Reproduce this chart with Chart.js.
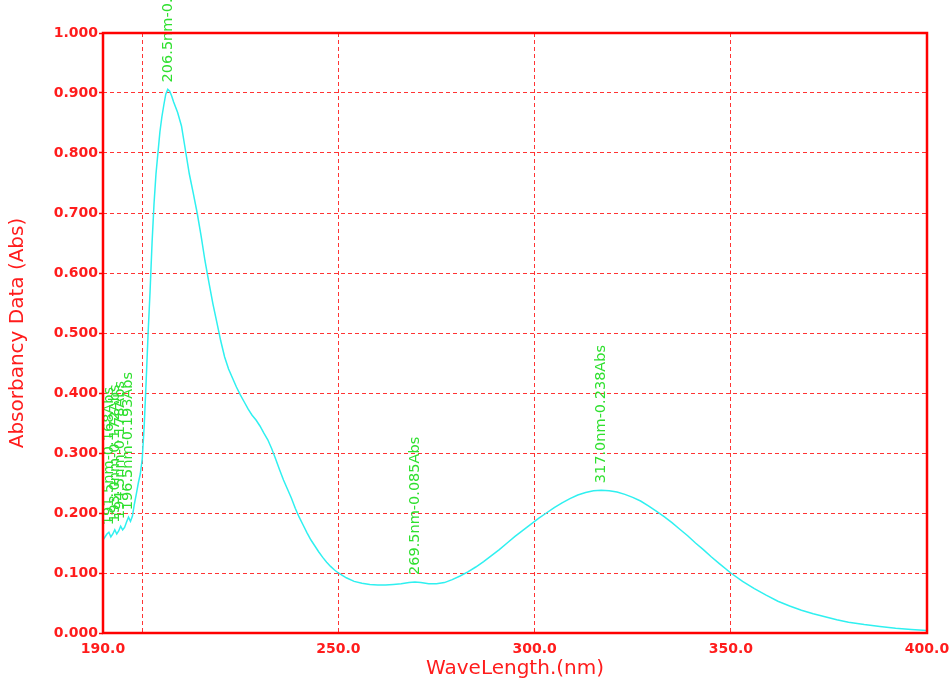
<!DOCTYPE html>
<html>
<head>
<meta charset="utf-8">
<title>Absorbance spectrum</title>
<script src="https://cdn.jsdelivr.net/npm/chart.js@4.4.1/dist/chart.umd.min.js"></script>
<style>
  html, body { margin: 0; padding: 0; background: #ffffff; }
  #wrap { width: 952px; height: 684px; }
</style>
</head>
<body>
<div id="wrap"><canvas id="spec" width="952" height="684"></canvas></div>
<script>
// Wavelength (nm) of each sample of the scan
const wavelengthNm = [
  190.0, 190.5, 191.0, 191.5, 192.0, 192.5, 193.0, 193.5, 194.0, 194.5,
  195.0, 195.5, 196.0, 196.5, 197.0, 197.5, 198.0, 198.5, 199.0, 199.5,
  200.0, 200.5, 201.0, 201.5, 202.0, 202.5, 203.0, 203.5, 204.0, 204.5,
  205.0, 205.5, 206.0, 206.5, 207.0, 207.5, 208.0, 209.0, 210.0, 211.0,
  212.0, 213.0, 214.0, 215.0, 216.0, 217.0, 218.0, 219.0, 220.0, 221.0,
  222.0, 223.0, 224.0, 225.0, 226.0, 227.0, 228.0, 229.0, 230.0, 231.0,
  232.0, 233.0, 234.0, 235.0, 236.0, 237.0, 238.0, 239.0, 240.0, 241.0,
  242.0, 243.0, 244.0, 245.0, 246.0, 247.0, 248.0, 249.0, 250.0, 252.0,
  254.0, 256.0, 258.0, 260.0, 262.0, 264.0, 266.0, 268.0, 269.5, 271.0,
  273.0, 275.0, 277.0, 279.0, 281.0, 283.0, 285.0, 287.0, 289.0, 291.0,
  293.0, 295.0, 297.0, 299.0, 301.0, 303.0, 305.0, 307.0, 309.0, 311.0,
  313.0, 315.0, 317.0, 319.0, 321.0, 323.0, 325.0, 327.0, 329.0, 331.0,
  333.0, 335.0, 337.0, 339.0, 341.0, 343.0, 345.0, 347.0, 350.0, 353.0,
  356.0, 359.0, 362.0, 365.0, 368.0, 371.0, 374.0, 377.0, 380.0, 384.0,
  388.0, 392.0, 396.0, 400.0
];

// Absorbance (Abs) at each wavelength above
const absorbance = [
  0.155, 0.160, 0.165, 0.168, 0.160, 0.165, 0.172, 0.165, 0.170, 0.178,
  0.172, 0.176, 0.185, 0.193, 0.186, 0.195, 0.215, 0.232, 0.250, 0.265,
  0.290, 0.345, 0.420, 0.500, 0.570, 0.650, 0.715, 0.765, 0.800, 0.835,
  0.860, 0.880, 0.898, 0.906, 0.903, 0.895, 0.885, 0.868, 0.845, 0.805,
  0.765, 0.733, 0.700, 0.662, 0.620, 0.584, 0.549, 0.518, 0.487, 0.460,
  0.440, 0.425, 0.410, 0.397, 0.385, 0.373, 0.363, 0.355, 0.345, 0.333,
  0.322, 0.307, 0.290, 0.272, 0.255, 0.240, 0.225, 0.208, 0.193, 0.180,
  0.167, 0.155, 0.145, 0.135, 0.126, 0.118, 0.111, 0.105, 0.100, 0.092,
  0.086, 0.083, 0.081, 0.080, 0.080, 0.081, 0.082, 0.084, 0.085, 0.084,
  0.082, 0.082, 0.084, 0.089, 0.095, 0.102, 0.110, 0.119, 0.129, 0.139,
  0.150, 0.161, 0.171, 0.181, 0.191, 0.200, 0.209, 0.217, 0.224, 0.230,
  0.234, 0.237, 0.238, 0.237, 0.235, 0.231, 0.226, 0.220, 0.212, 0.203,
  0.194, 0.184, 0.173, 0.162, 0.150, 0.139, 0.127, 0.116, 0.100, 0.086,
  0.074, 0.063, 0.053, 0.045, 0.038, 0.032, 0.027, 0.022, 0.018, 0.014,
  0.011, 0.008, 0.006, 0.004
];

// Picked peaks
const peakNm  = [191.5, 193.0, 194.5, 196.5, 206.5, 269.5, 317.0];
const peakAbs = [0.168, 0.172, 0.178, 0.193, 0.906, 0.085, 0.238];

// Axis ticks
const xTickValues = [190, 200, 250, 300, 350, 400];
const xTickLabels = ['190.0', '', '250.0', '300.0', '350.0', '400.0'];
const yTickValues = [0, 0.1, 0.2, 0.3, 0.4, 0.5, 0.6, 0.7, 0.8, 0.9, 1.0];
const yTickLabels = ['0.000', '0.100', '0.200', '0.300', '0.400', '0.500',
                     '0.600', '0.700', '0.800', '0.900', '1.000'];

const RED = '#ff1c1c';
const GRID = '#ff3434';
const FONT = "'DejaVu Sans', Verdana, sans-serif";

const points = wavelengthNm.map((nm, i) => ({ x: nm, y: absorbance[i] }));

// Thick frame around the plot area
const framePlugin = {
  id: 'frame',
  afterDraw(chart) {
    const { ctx, chartArea: a } = chart;
    ctx.save();
    ctx.strokeStyle = '#ff0000';
    ctx.lineWidth = 2.5;
    ctx.strokeRect(a.left, a.top, a.right - a.left, a.bottom - a.top);
    ctx.restore();
  }
};

// Vertical peak captions: "<nm>nm-<abs>Abs"
const peakLabelPlugin = {
  id: 'peakLabels',
  afterDatasetsDraw(chart) {
    const { ctx, scales: { x, y } } = chart;
    ctx.save();
    ctx.font = '14.5px ' + FONT;
    ctx.fillStyle = '#2fe02f';
    ctx.textAlign = 'left';
    ctx.textBaseline = 'middle';
    peakNm.forEach((nm, i) => {
      const px = x.getPixelForValue(nm);
      const py = y.getPixelForValue(peakAbs[i]);
      const txt = nm.toFixed(1) + 'nm-' + peakAbs[i].toFixed(3) + 'Abs';
      ctx.save();
      ctx.translate(px, py - 7);
      ctx.rotate(-Math.PI / 2);
      ctx.fillText(txt, 0, 0);
      ctx.restore();
    });
    ctx.restore();
  }
};

new Chart(document.getElementById('spec'), {
  type: 'line',
  data: {
    datasets: [{
      data: points,
      borderColor: '#2ff0f0',
      borderWidth: 1.5,
      pointRadius: 0,
      tension: 0,
      fill: false
    }]
  },
  options: {
    responsive: false,
    animation: false,
    events: [],
    layout: { padding: { top: 33, right: 25, left: 0, bottom: 0 } },
    plugins: {
      legend: { display: false },
      tooltip: { enabled: false }
    },
    scales: {
      x: {
        type: 'linear',
        min: 190,
        max: 400,
        afterBuildTicks(scale) {
          scale.ticks = xTickValues.map(v => ({ value: v }));
        },
        afterFit(scale) {
          scale.height = 51;
          scale.paddingLeft = 0;
          scale.paddingRight = 0;
        },
        border: { display: false, dash: [4, 3] },
        grid: {
          color: GRID,
          lineWidth: 1,
          drawTicks: false
        },
        ticks: {
          autoSkip: false,
          maxRotation: 0,
          padding: 8,
          color: RED,
          font: { family: FONT, size: 14, weight: 'bold' },
          callback: (v) => xTickLabels[xTickValues.indexOf(v)]
        },
        title: {
          display: true,
          text: 'WaveLength.(nm)',
          color: RED,
          font: { family: FONT, size: 20 },
          padding: { top: 0, bottom: 3 }
        }
      },
      y: {
        type: 'linear',
        min: 0,
        max: 1,
        afterBuildTicks(scale) {
          scale.ticks = yTickValues.map(v => ({ value: v }));
        },
        afterFit(scale) {
          scale.width = 103;
          scale.paddingTop = 0;
          scale.paddingBottom = 0;
        },
        border: { display: false, dash: [4, 3] },
        grid: {
          color: GRID,
          lineWidth: 1,
          drawTicks: true,
          tickLength: 4,
          tickColor: '#ff0000',
          tickWidth: 1.5,
          tickBorderDash: []
        },
        ticks: {
          autoSkip: false,
          padding: 1,
          color: RED,
          font: { family: FONT, size: 14, weight: 'bold' },
          callback: (v) => yTickLabels[yTickValues.indexOf(v)] ?? ''
        },
        title: {
          display: true,
          text: 'Absorbancy Data (Abs)',
          color: RED,
          font: { family: FONT, size: 20 },
          padding: { top: 6, bottom: 0 }
        }
      }
    }
  },
  plugins: [framePlugin, peakLabelPlugin]
});
</script>
</body>
</html>
